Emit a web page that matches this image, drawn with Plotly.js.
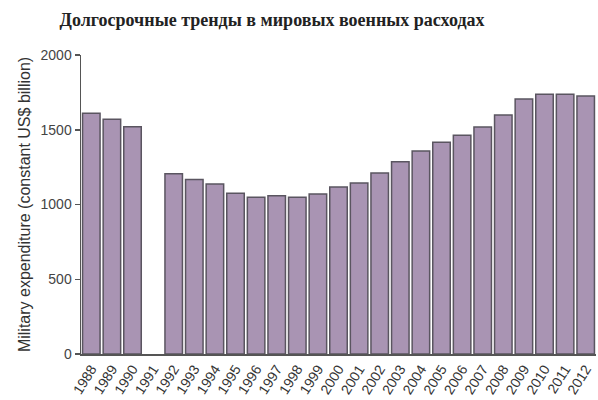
<!DOCTYPE html>
<html>
<head>
<meta charset="utf-8">
<script src="https://cdn.plot.ly/plotly-3.0.1.min.js"></script>
<style>html,body{margin:0;padding:0;background:#fff;}#chart{width:598px;height:400px;}</style>
</head>
<body>
<div id="chart"></div>
<script>
const years = ["1988","1989","1990","1991","1992","1993","1994","1995","1996","1997","1998","1999","2000","2001","2002","2003","2004","2005","2006","2007","2008","2009","2010","2011","2012"];
const spending = [1610,1570,1520,null,1206,1168,1137,1075,1048,1059,1048,1070,1117,1144,1211,1286,1358,1416,1463,1518,1599,1706,1737,1737,1726];
const titleText = "Долгосрочные тренды в мировых военных расходах";
const yTitle = "Military expenditure (constant US$ billion)";

const trace = {
  type: 'bar',
  x: years,
  y: spending,
  marker: {color: '#a994b3', line: {color: '#5a5560', width: 1.5}},
  hoverinfo: 'x+y'
};

const layout = {
  width: 598, height: 400,
  margin: {l: 81, r: 2, t: 55, b: 46},
  paper_bgcolor: '#fff', plot_bgcolor: '#fff',
  bargap: 0.15,
  showlegend: false,
  title: {
    text: '<b>' + titleText + '</b>',
    font: {family: 'Liberation Serif, serif', size: 18, color: '#222'},
    xref: 'paper', x: 0.371, xanchor: 'center',
    yref: 'container', y: 0.95, yanchor: 'middle'
  },
  xaxis: {
    type: 'category',
    tickangle: -58,
    tickfont: {family: 'Liberation Sans, Arial, sans-serif', size: 14, color: '#333'},
    showline: true, linecolor: '#555', linewidth: 1.5,
    ticks: '', showgrid: false, zeroline: false
  },
  yaxis: {
    range: [0, 2000],
    tickvals: [0, 500, 1000, 1500, 2000],
    ticks: 'outside', ticklen: 5, tickcolor: '#555', tickwidth: 1.5,
    showline: true, linecolor: '#555', linewidth: 1.5,
    showgrid: false, zeroline: false,
    tickfont: {family: 'Liberation Sans, Arial, sans-serif', size: 14, color: '#444'},
    title: {text: yTitle, standoff: 6, font: {family: 'Liberation Sans, Arial, sans-serif', size: 16, color: '#333'}}
  }
};

Plotly.newPlot('chart', [trace], layout, {displayModeBar: false, staticPlot: true});
</script>
</body>
</html>
